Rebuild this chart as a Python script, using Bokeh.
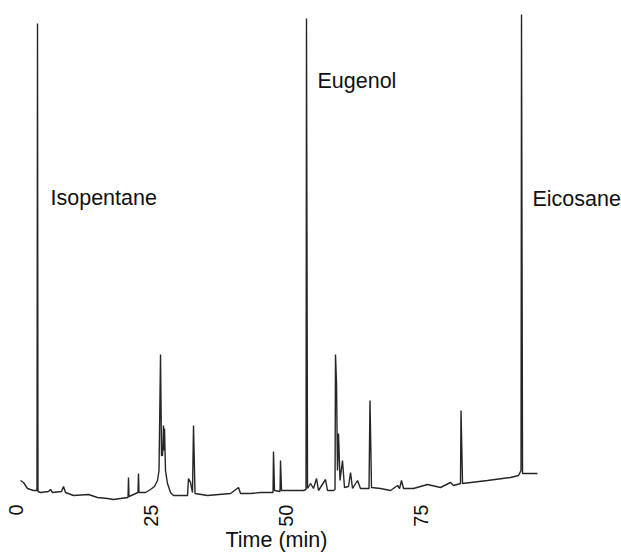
import math
from bokeh.plotting import figure
from bokeh.models import Range1d, FixedTicker, Label, ColumnDataSource, Title
from bokeh.embed import file_html
from bokeh.resources import INLINE

# Chromatogram trace: retention time (min) and detector response (a.u.)
TIME = [0.74, 1.30, 2.04, 3.15, 3.80, 3.90, 3.99, 4.45, 5.94, 6.31, 6.68, 8.35, 8.72, 9.09,
        10.58, 13.36, 15.03, 16.88, 18.00, 19.29, 20.69, 20.78, 20.87, 21.71, 22.54, 22.63,
        22.73, 23.93, 24.86, 25.60, 26.16, 26.44, 26.72, 26.90, 27.09, 27.27, 27.37, 27.46,
        27.64, 28.01, 28.57, 29.13, 31.73, 31.91, 32.28, 32.65, 32.84, 33.12, 35.44, 39.70,
        41.19, 41.56, 43.41, 45.27, 47.59, 47.68, 47.87, 48.89, 48.98, 49.17, 50.83, 53.25,
        53.71, 53.80, 53.99, 54.55, 55.10, 55.66, 56.03, 57.33, 57.70, 58.81, 59.09, 59.18,
        59.37, 59.55, 59.74, 60.02, 60.48, 60.85, 61.60, 61.97, 62.34, 63.27, 63.82, 65.40,
        65.58, 65.86, 67.53, 69.39, 70.69, 71.06, 71.43, 71.80, 73.65, 76.25, 78.66, 80.52,
        81.08, 82.37, 82.47, 82.75, 87.38, 91.65, 93.14, 93.60, 93.69, 93.88, 96.66]
SIGNAL = [4.0, 3.6, 2.4, 2.0, 2.0, 95.4, 1.8, 1.6, 1.8, 2.2, 1.6, 1.8, 2.8, 1.6,
          1.0, 1.2, 0.6, 0.4, 0.2, 0.4, 0.6, 4.6, 0.8, 1.2, 1.6, 5.4,
          1.6, 1.6, 2.2, 2.8, 4.0, 6.0, 29.2, 9.0, 9.0, 15.0, 10.0, 14.4,
          6.0, 3.4, 1.6, 1.0, 1.0, 4.4, 3.6, 1.6, 15.0, 1.4, 1.0, 1.4,
          2.6, 1.4, 1.4, 1.6, 1.6, 9.8, 2.0, 1.8, 8.0, 2.0, 2.0, 2.0,
          2.2, 96.4, 2.4, 3.4, 2.4, 4.4, 2.0, 4.2, 2.0, 2.0, 2.2, 29.2,
          23.4, 6.0, 13.4, 4.0, 8.0, 2.6, 2.8, 5.6, 2.4, 4.0, 2.4, 2.4,
          20.0, 2.6, 2.4, 2.0, 3.0, 2.4, 4.0, 2.4, 2.4, 3.2, 2.6, 3.6,
          3.0, 3.4, 18.0, 3.4, 4.0, 4.6, 5.0, 6.0, 97.2, 5.4, 5.4]

PEAK_NAMES = ["Isopentane", "Eugenol", "Eicosane"]
PEAK_LABEL_T = [6.31, 55.84, 95.73]
PEAK_LABEL_S = [60.5, 84.0, 60.3]

TICKS = [0, 25, 50, 75]
X_LABEL = "Time (min)"

FONT = "Liberation Sans"

p = figure(width=621, height=554, output_backend="svg", toolbar_location=None,
           x_range=Range1d(-1.484, 112.24), y_range=Range1d(-0.6, 98.4),
           y_axis_location=None, min_border_left=8, min_border_right=0,
           min_border_top=8, min_border_bottom=51)
p.outline_line_color = None
p.xgrid.visible = False
p.ygrid.visible = False
p.background_fill_color = "white"
p.border_fill_color = "white"

src = ColumnDataSource(dict(t=TIME, s=SIGNAL))
p.line("t", "s", source=src, line_color="#262626", line_width=1.4)

for name, t, s in zip(PEAK_NAMES, PEAK_LABEL_T, PEAK_LABEL_S):
    p.add_layout(Label(x=t, y=s, text=name, text_font=FONT, text_font_size="21.5px",
                       text_color="#111111", text_align="left", text_baseline="alphabetic"))

ax = p.xaxis[0]
ax.ticker = FixedTicker(ticks=TICKS)
ax.major_label_orientation = math.pi / 2
ax.major_label_text_font = FONT
ax.major_label_text_font_size = "20px"
ax.major_label_text_color = "#111111"
ax.major_label_standoff = 1
ax.major_tick_out = 0
ax.major_tick_in = 0
ax.minor_tick_out = 0
ax.minor_tick_in = 0
ax.axis_line_color = None
ax.major_tick_line_color = None
ax.minor_tick_line_color = None

# x-axis title, placed under the tick labels, roughly centred under t = 48
xt = Title(text=X_LABEL, align="left", offset=217, standoff=-7,
           text_font=FONT, text_font_style="normal", text_font_size="21.5px",
           text_color="#111111")
p.add_layout(xt, "below")

open("out.html", "w").write(file_html(p, INLINE))
